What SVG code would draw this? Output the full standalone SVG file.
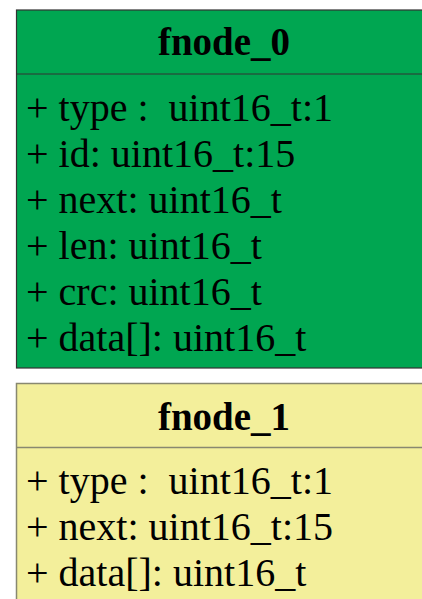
<svg xmlns="http://www.w3.org/2000/svg" width="422" height="599" viewBox="0 0 422 599">
<style>
.t{font-family:"Liberation Serif","Times New Roman",serif;font-size:39px;font-weight:bold;text-anchor:middle;fill:#000}
.a{font-family:"Liberation Serif","Times New Roman",serif;font-size:40px;fill:#000;white-space:pre}
.g{fill:#00a651;stroke:#333;stroke-width:1.2}
.y{fill:#f3ef9b;stroke:#888870;stroke-width:1.5}
.gl{stroke:#333;stroke-width:1.2}
.yl{stroke:#888870;stroke-width:1.5}
</style>
<rect width="422" height="599" fill="#fff"/>
<g id="fnode_0">
<rect class="g" x="16.5" y="10" width="420" height="358"/>
<line class="gl" x1="16.5" y1="74" x2="436.5" y2="74"/>
<text class="t" x="224" y="55">fnode_0</text>
<text class="a" x="26" y="121" xml:space="preserve">+ type :  uint16_t:1</text>
<text class="a" x="26" y="167">+ id: uint16_t:15</text>
<text class="a" x="26" y="213">+ next: uint16_t</text>
<text class="a" x="26" y="259">+ len: uint16_t</text>
<text class="a" x="26" y="305">+ crc: uint16_t</text>
<text class="a" x="26" y="351">+ data[]: uint16_t</text>
</g>
<g id="fnode_1">
<rect class="y" x="16.5" y="383.5" width="420" height="240"/>
<line class="yl" x1="16.5" y1="447.5" x2="436.5" y2="447.5"/>
<text class="t" x="224" y="429.5">fnode_1</text>
<text class="a" x="26" y="494" xml:space="preserve">+ type :  uint16_t:1</text>
<text class="a" x="26" y="540">+ next: uint16_t:15</text>
<text class="a" x="26" y="586">+ data[]: uint16_t</text>
</g>
<g id="connectors"/>
</svg>
